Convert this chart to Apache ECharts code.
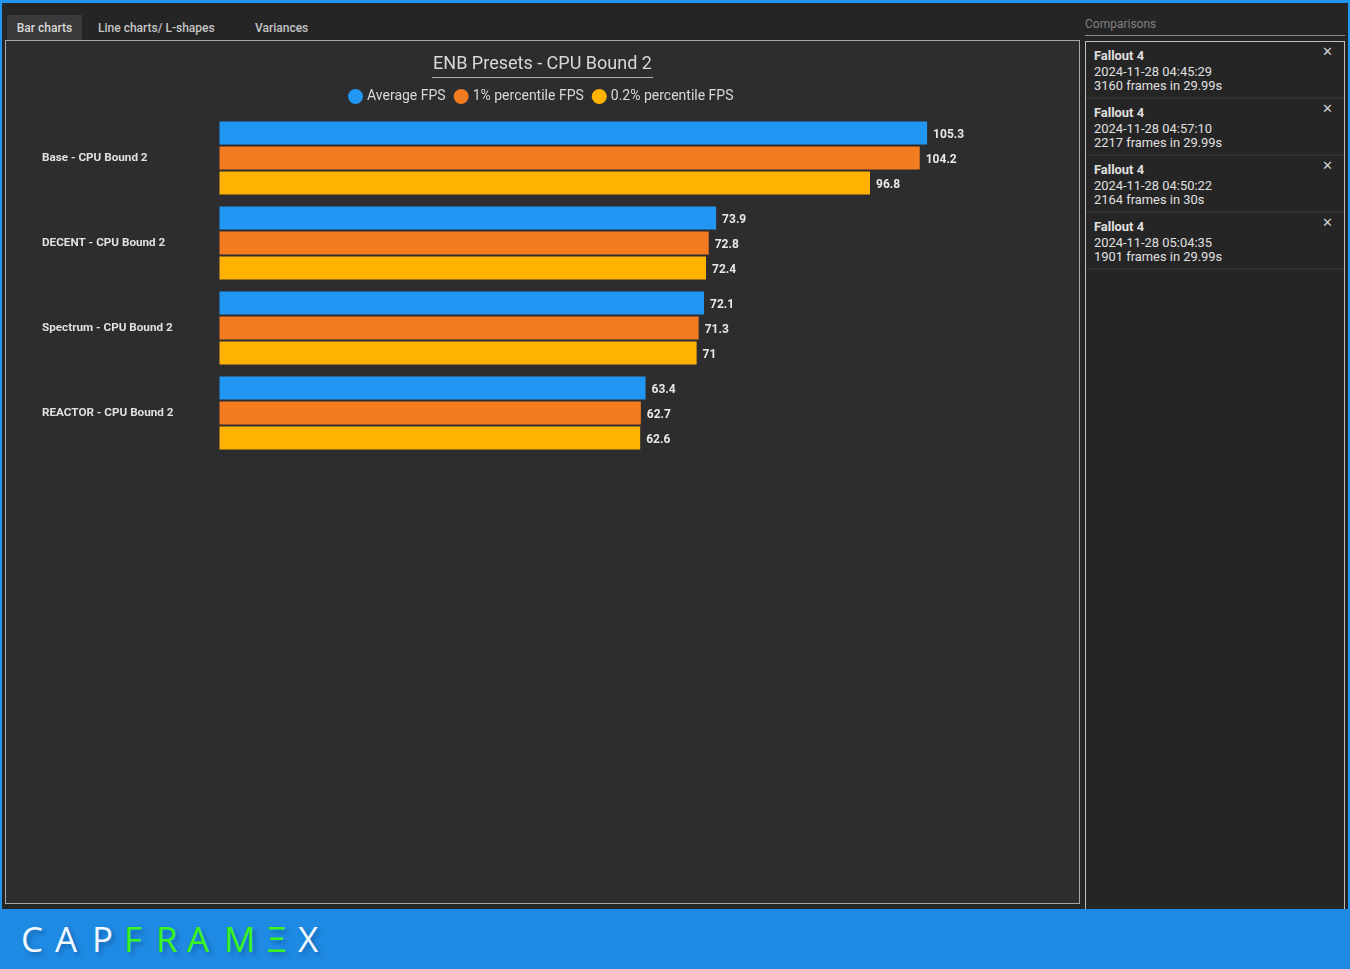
<!DOCTYPE html>
<html>
<head>
<meta charset="utf-8">
<style>
    html, body { margin: 0; width: 1350px; height: 969px; overflow: hidden; background: #252526; font-family: Roboto, sans-serif; color: #e0e0e0; }
    .abs { position: absolute; }
    #topbar { left: 0; top: 0; width: 1350px; height: 3px; background: #2196f3; }
    #leftbar { left: 0; top: 0; width: 2px; height: 969px; background: #2196f3; }
    #rightbar { left: 1348px; top: 0; width: 2px; height: 969px; background: #2196f3; }
    .tab { top: 15px; height: 25px; line-height: 26px; font-size: 12px; font-weight: 500; color: #c4c4c4; white-space: nowrap; }
    #tab1 { left: 7px; width: 75px; text-align: center; background: #3a3a3c; color: #d8d8d8; }
    #tab2 { left: 98px; }
    #tab3 { left: 255px; }
    #panel { left: 5px; top: 40px; width: 1073px; height: 862px; border: 1px solid #a8a8a8; background: #2d2d30; }
    #chart { left: 6px; top: 41px; width: 1073px; height: 862px; }
    #compTitle { left: 1085px; top: 17px; font-size: 12px; color: #808080; }
    #compLine { left: 1085px; top: 35px; width: 260px; height: 1px; background: #8a8a8a; }
    #compBox { left: 1085px; top: 41px; width: 258px; height: 880px; border: 1px solid #bdbdbd; border-bottom: 0; }
    .item { position: relative; padding: 5px 0 0 8px; border-bottom: 2px solid #303032; height: 50px; font-size: 12.9px; line-height: 14px; color: #e0e0e0; }
    .item b { font-size: 12.9px; font-weight: 700; line-height: 17px; margin-bottom: 1px; display: block; }
    .item i { position: absolute; right: 11px; top: 3px; font-style: normal; font-size: 13px; color: #d0d0d0; }
    #footer { left: 0; top: 909px; width: 1350px; height: 60px; background: #1f8ae3; }
    #logo span { position: absolute; top: 10px; font: 500 35px/40px "Open Sans", sans-serif; text-shadow: 3px 3px 4px rgba(0,40,90,.35); }
    .w { color: #f2f8ff; }
    .g { color: #3cf51e; }
</style>
<script src="https://cdn.jsdelivr.net/npm/echarts@6/dist/echarts.min.js"></script>
</head>
<body>
<div id="topbar" class="abs"></div>
<div id="leftbar" class="abs"></div>
<div id="rightbar" class="abs"></div>
<div id="tab1" class="abs tab">Bar charts</div>
<div id="tab2" class="abs tab">Line charts/ L-shapes</div>
<div id="tab3" class="abs tab">Variances</div>
<div id="panel" class="abs"></div>
<div id="chart" class="abs"></div>
<div id="compTitle" class="abs">Comparisons</div>
<div id="compLine" class="abs"></div>
<div id="compBox" class="abs"></div>
<div id="footer" class="abs">
    <div id="logo">
        <span class="w" style="left:21px">C</span>
        <span class="w" style="left:55px">A</span>
        <span class="w" style="left:92px">P</span>
        <span class="g" style="left:124px">F</span>
        <span class="g" style="left:156px">R</span>
        <span class="g" style="left:187px">A</span>
        <span class="g" style="left:224px">M</span>
        <span class="g" style="left:267px">Ξ</span>
        <span class="w" style="left:298px">X</span>
    </div>
</div>
<script type="text/javascript">
    var categories = ['Base - CPU Bound 2', 'DECENT - CPU Bound 2', 'Spectrum - CPU Bound 2', 'REACTOR - CPU Bound 2'];
    var averageFps = [105.3, 73.9, 72.1, 63.4];
    var p1Fps = [104.2, 72.8, 71.3, 62.7];
    var p02Fps = [96.8, 72.4, 71, 62.6];
    var seriesNames = ['Average FPS', '1% percentile FPS', '0.2% percentile FPS'];
    var seriesColors = ['#2196f3', '#f37b20', '#ffb300'];
    var comparisons = [
        ['Fallout 4', '2024-11-28 04:45:29', '3160 frames in 29.99s'],
        ['Fallout 4', '2024-11-28 04:57:10', '2217 frames in 29.99s'],
        ['Fallout 4', '2024-11-28 04:50:22', '2164 frames in 30s'],
        ['Fallout 4', '2024-11-28 05:04:35', '1901 frames in 29.99s']
    ];

    comparisons.forEach(function (c) {
        var d = document.createElement('div');
        d.className = 'item';
        d.innerHTML = '<b>' + c[0] + '</b>' + c[1] + '<br>' + c[2] + '<i>✕</i>';
        document.getElementById('compBox').appendChild(d);
    });

    function bar(i, values) {
        return {
            name: seriesNames[i],
            type: 'bar',
            data: values,
            barWidth: 23,
            barGap: '8.7%',
            itemStyle: { color: seriesColors[i] },
            label: { show: true, position: 'right', distance: 6, offset: [0, 1.8], color: '#e8e8e8', fontFamily: 'Roboto', fontSize: 12, fontWeight: 'bold' }
        };
    }

    var myChart = echarts.init(document.getElementById('chart'));
    myChart.setOption({
        animation: false,
        backgroundColor: 'transparent',
        title: {
            text: 'ENB Presets - CPU Bound 2',
            left: 'center',
            top: 9,
            textStyle: { color: '#d8d8d8', fontFamily: 'Roboto', fontSize: 18, fontWeight: 'normal' }
        },
        legend: {
            data: seriesNames,
            left: 337,
            top: 43,
            icon: 'circle',
            itemWidth: 15,
            itemHeight: 15,
            itemGap: 8,
            textStyle: { color: '#d8d8d8', fontFamily: 'Roboto', fontSize: 14, padding: [0, 0, 0, -1] }
        },
        grid: { left: 213.5, top: 74.5, width: 806.4, height: 340 },
        xAxis: { type: 'value', min: 0, max: 120, show: false },
        yAxis: {
            type: 'category',
            data: categories,
            inverse: true,
            axisLine: { show: false },
            axisTick: { show: false },
            axisLabel: { align: 'left', margin: 177.5, padding: [4, 0, 0, 0], color: '#e0e0e0', fontFamily: 'Roboto', fontSize: 11.7, fontWeight: 'bold' }
        },
        graphic: [{
            type: 'line',
            shape: { x1: 426, y1: 36.5, x2: 647, y2: 36.5 },
            style: { stroke: '#b0b0b0', lineWidth: 1 }
        }],
        series: [bar(0, averageFps), bar(1, p1Fps), bar(2, p02Fps)]
    });
</script>
</body>
</html>
